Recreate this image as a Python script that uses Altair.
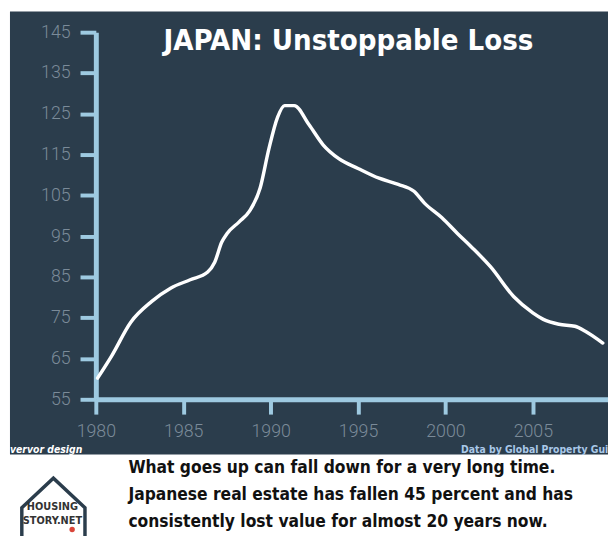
import altair as alt
import pandas as pd

# ---- data ----
years = [1980.1, 1980.9, 1982.0, 1983.2, 1984.3, 1985.4, 1986.4, 1986.8, 1987.2, 1987.5,
         1988.2, 1988.8, 1989.4, 1989.9, 1990.4, 1990.8, 1991.35, 1992.2, 1993.0, 1993.9,
         1995.0, 1996.2, 1997.3, 1998.2, 1998.8, 1999.8, 2000.7, 2001.5, 2002.6, 2003.9,
         2005.0, 2005.6, 2006.5, 2007.4, 2008.0, 2009.0]
values = [60.2, 65.6, 73.9, 79.0, 82.3, 84.3, 86.2, 88.6, 93.5, 95.6,
          98.5, 101.2, 106.8, 116.4, 124.2, 127.0, 127.0, 122.3, 117.4, 114.0,
          111.6, 109.2, 107.7, 106.0, 103.1, 99.5, 95.6, 92.3, 87.4, 80.2,
          76.2, 74.6, 73.4, 72.9, 71.7, 68.8]
x_ticks = [1980, 1985, 1990, 1995, 2000, 2005]
y_ticks = [55, 65, 75, 85, 95, 105, 115, 125, 135, 145]

title_text = "JAPAN: Unstoppable Loss"
caption_lines = [
    "What goes up can fall down for a very long time.",
    "Japanese real estate has fallen 45 percent and has",
    "consistently lost value for almost 20 years now.",
]
credit_left = "vervor design"
credit_right = "Data by Global Property Guide"
logo_lines = ["HOUSING", "STORY.NET"]

df = pd.DataFrame({"year": years, "value": values})

PANEL = "#2b3d4c"
AXIS = "#9ecae1"
LABEL = "#7b8b99"
COND = "'Liberation Sans Narrow', 'DejaVu Sans Condensed', sans-serif"

xscale = alt.Scale(domain=[1980, 2009.3], range=[87, 606], nice=False, zero=False)
yscale = alt.Scale(domain=[55, 145], range=[393, 21], nice=False, zero=False)

axis_common = dict(
    domainColor=AXIS, domainWidth=5, tickColor=AXIS, tickWidth=4,
    labelColor=LABEL, labelFont="Roboto", labelFontWeight=300,
    grid=False, title=None, labelOverlap=False, labelFlush=False,
)

line = alt.Chart(df).mark_line(
    color="white", strokeWidth=3.5, interpolate="monotone", strokeCap="round"
).encode(
    x=alt.X("year:Q", scale=xscale,
            axis=alt.Axis(values=x_ticks, format="d", orient="bottom", offset=-56,
                          tickSize=15, labelPadding=9, labelFontSize=18, **axis_common)),
    y=alt.Y("value:Q", scale=yscale,
            axis=alt.Axis(values=y_ticks, orient="left", offset=-87,
                          tickSize=16, labelPadding=10, labelFontSize=18, **axis_common)),
)


def text_layer(txt, x, y, **kw):
    return alt.Chart(pd.DataFrame({"t": [txt]})).mark_text(**kw).encode(
        text="t:N", x=alt.value(x), y=alt.value(y)
    )


layers = [line]
layers.append(text_layer(title_text, 343, 39, font="DejaVu Sans Condensed", fontWeight="bold",
                         fontSize=29.5, color="white", align="center", baseline="alphabetic"))
layers.append(text_layer(credit_left, 0, 447, font="DejaVu Sans Condensed", fontWeight="bold",
                         fontStyle="italic", fontSize=10.5, color="white", align="left",
                         baseline="alphabetic"))
layers.append(text_layer(credit_right, 457, 447, font=COND, fontWeight="bold",
                         fontSize=10.5, color="#a9c8e8", align="left", baseline="alphabetic"))
for i, ln in enumerate(caption_lines):
    layers.append(text_layer(ln, 120, 468 + 27 * i, font=COND, fontWeight="bold",
                             fontSize=17.5, color="#111111", align="left",
                             baseline="alphabetic"))

# logo
house = alt.Chart(pd.DataFrame({"t": ["house"]})).mark_point(
    shape="M-1,1L-1,0L0,-0.94L1,0L1,1", filled=False, stroke="#2b3d4c",
    strokeWidth=3.5, size=4096, opacity=1
).encode(x=alt.value(44), y=alt.value(503))
layers.append(house)
for i, ln in enumerate(logo_lines):
    layers.append(text_layer(ln, 43, 505 + 14 * i, font=COND, fontWeight="bold",
                             fontSize=11, color="#333333", align="center",
                             baseline="alphabetic"))
dot = alt.Chart(pd.DataFrame({"t": ["dot"]})).mark_point(
    filled=True, color="#d9453a", size=30, opacity=1
).encode(x=alt.value(63), y=alt.value(525))
layers.append(dot)

chart = alt.layer(*layers).properties(
    width=606, height=449,
    padding={"left": 2, "top": 0, "right": 0, "bottom": 79},
    autosize=alt.AutoSizeParams(type="none"),
    background="white",
).configure_view(fill=PANEL, stroke=None)

chart.save("out.html", embed_options={"renderer": "svg", "actions": False})
